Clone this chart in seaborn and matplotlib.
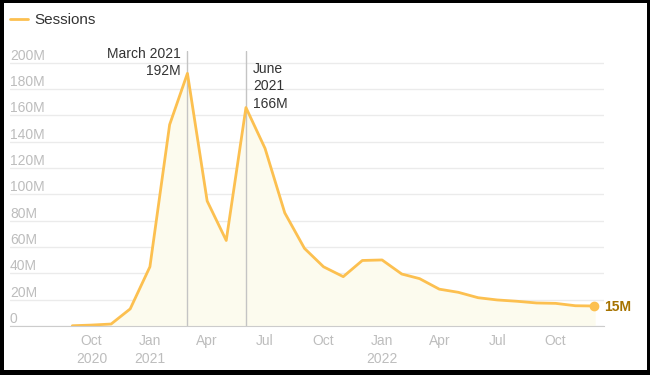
import pandas as pd
import numpy as np
import matplotlib
matplotlib.use("Agg")
import matplotlib.pyplot as plt
import matplotlib.dates as mdates
from matplotlib.patches import Rectangle
import seaborn as sns

# monthly sessions, millions
months = pd.date_range("2020-09-01", "2022-12-01", freq="MS")
sessions = [0.2, 0.7, 1.5, 13, 45, 153, 192, 95, 65, 166, 135, 86, 59, 45, 37.5,
            49.8, 50.2, 39.5, 36, 28, 25.6, 21.5, 19.8, 18.8, 17.5, 17.2, 15.4, 15.2]
ytick_vals = list(range(0, 201, 20))
ytick_labels = ["0"] + [f"{v}M" for v in ytick_vals[1:]]
xtick_dates = pd.to_datetime(["2020-10-01", "2021-01-01", "2021-04-01", "2021-07-01",
                              "2021-10-01", "2022-01-01", "2022-04-01", "2022-07-01",
                              "2022-10-01"])
xtick_labels = ["Oct\n2020", "Jan\n2021", "Apr", "Jul", "Oct", "Jan\n2022", "Apr", "Jul", "Oct"]

df = pd.DataFrame({"month": months, "sessions": sessions})

sns.set_style("white")
plt.rcParams["font.family"] = ["Liberation Sans", "DejaVu Sans"]

line_col = "#fcc050"
fill_col = "#fcfbee"
tick_col = "#bdbdbd"
text_col = "#333333"

fig = plt.figure(figsize=(6.5, 3.75), dpi=100)
fig.patch.set_facecolor("black")
fig.patches.append(Rectangle((4 / 650, 5 / 375), 643 / 650, 367 / 375,
                             transform=fig.transFigure, facecolor="white",
                             edgecolor="none", zorder=-10))

ax = fig.add_axes([10 / 650, 1 - 326 / 375, 594 / 650, 275 / 375])
ax.set_facecolor("none")

ax.fill_between(df["month"], 0, df["sessions"], color=fill_col, zorder=1)
sns.lineplot(data=df, x="month", y="sessions", ax=ax, color=line_col, lw=2,
             label="Sessions", zorder=3)
ax.plot(df["month"].iloc[-1], df["sessions"].iloc[-1], "o", color=line_col, ms=6, zorder=4)
ax.annotate("15M", xy=(df["month"].iloc[-1], df["sessions"].iloc[-1]),
            xytext=(7, -1), textcoords="offset points", ha="left", va="center",
            fontsize=10, fontweight="bold", color="#a67300", annotation_clip=False)

ax.set_xlim(pd.Timestamp("2020-05-26"), pd.Timestamp("2022-12-16"))
ax.set_ylim(0, 209)

# peaks
mar = pd.Timestamp("2021-03-01")
jun = pd.Timestamp("2021-06-01")
for d in (mar, jun):
    ax.axvline(d, color="#c4c4c4", lw=1, zorder=2)
ax.annotate("March 2021\n192M", xy=(mar, 1), xycoords=("data", "axes fraction"),
            xytext=(-5, 3), textcoords="offset points", ha="right", va="top",
            fontsize=10, color=text_col, linespacing=1.3, annotation_clip=False)
ax.annotate("June\n2021\n166M", xy=(jun, 1), xycoords=("data", "axes fraction"),
            xytext=(5, -8), textcoords="offset points", ha="left", va="top",
            fontsize=10, color=text_col, linespacing=1.3)

ax.set_yticks(ytick_vals)
ax.set_yticklabels(ytick_labels, ha="left", va="bottom")
ax.tick_params(axis="y", length=0, pad=0, labelsize=10, labelcolor=tick_col)
ax.set_xticks(xtick_dates)
ax.set_xticklabels(xtick_labels, linespacing=1.3)
ax.tick_params(axis="x", length=0, pad=6, labelsize=10, labelcolor=tick_col)
ax.grid(axis="y", color="#ebebeb", lw=1)
ax.set_axisbelow(True)
ax.set_xlabel("")
ax.set_ylabel("")
sns.despine(ax=ax, left=True)
ax.spines["bottom"].set_color("#cccccc")
ax.spines["bottom"].set_zorder(5)

ax.legend(loc="upper left", bbox_to_anchor=(10 / 650, 1 - 13 / 375),
          bbox_transform=fig.transFigure, frameon=False, borderpad=0,
          borderaxespad=0, handlelength=1.2, handletextpad=0.4, fontsize=11,
          labelcolor=text_col)

fig.savefig("out.png", dpi=100, facecolor=fig.get_facecolor())
